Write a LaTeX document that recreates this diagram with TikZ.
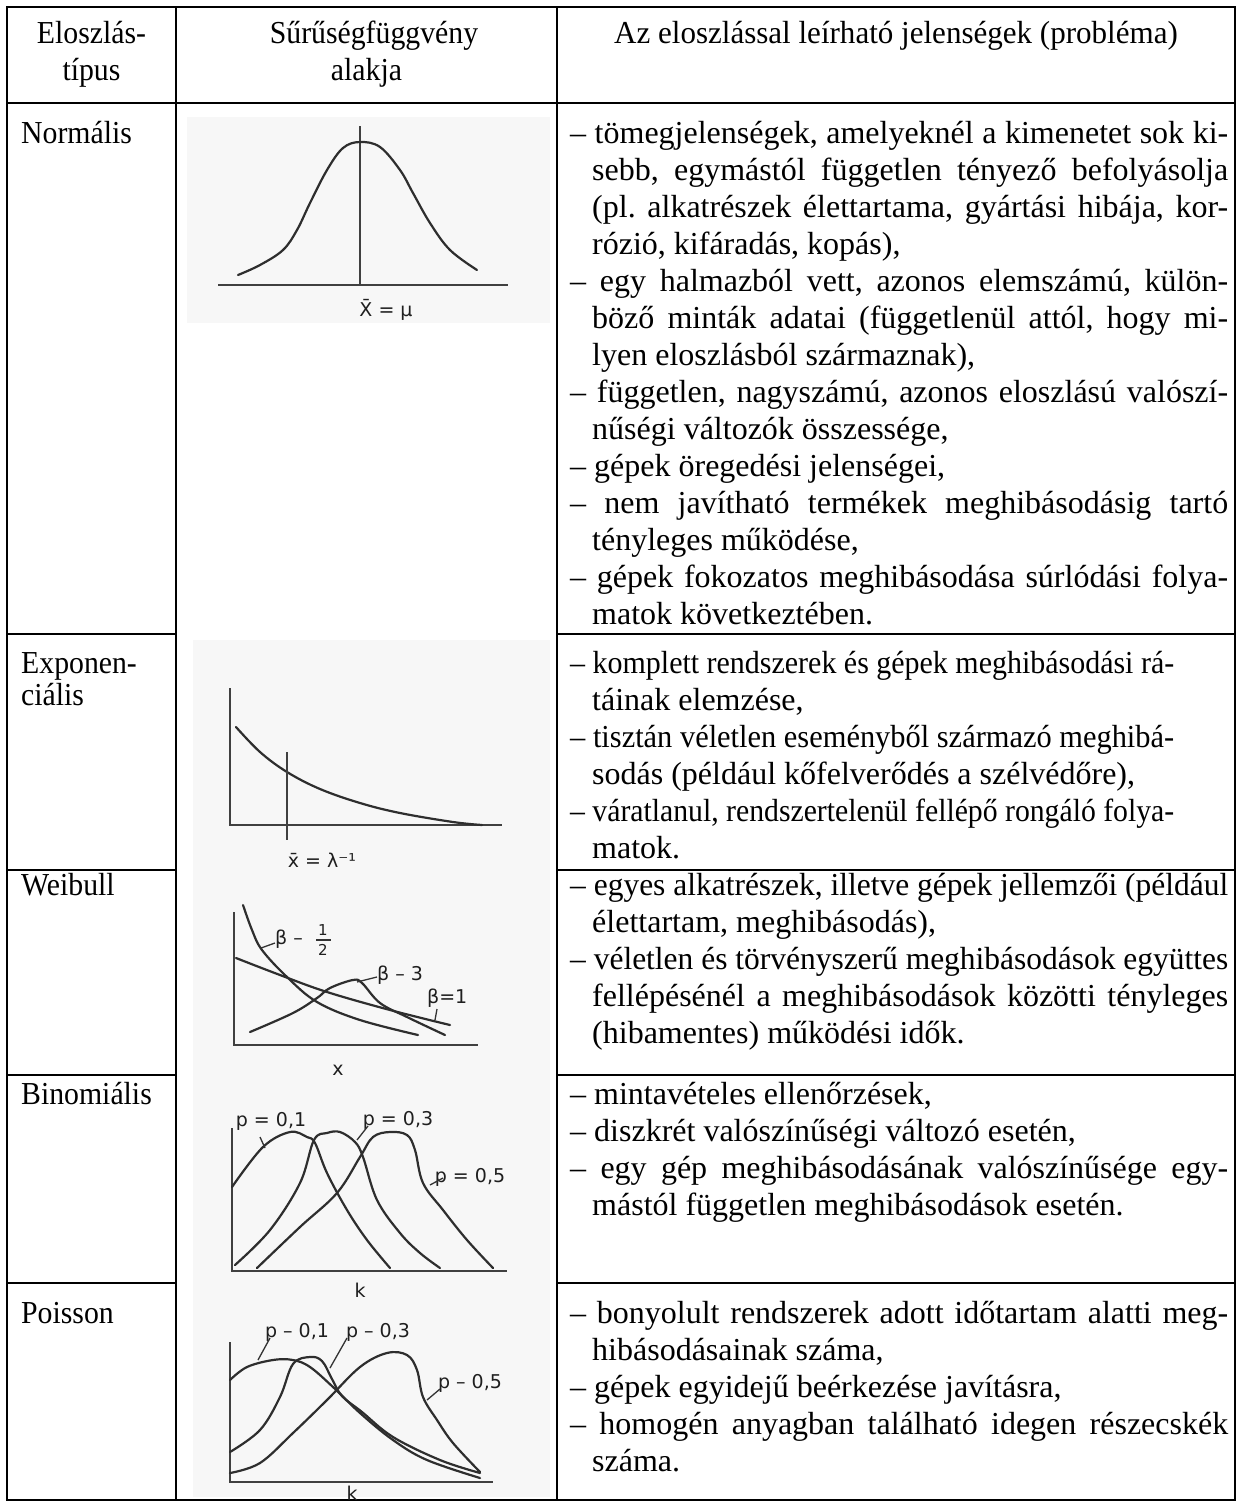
\documentclass[tikz,border=0pt]{standalone}
\usepackage{fontspec}
\usepackage{graphicx}
\setmainfont{Liberation Serif}
\newfontfamily\narrowserif[FakeStretch=0.93]{Liberation Serif}
\newfontfamily\headserif[FakeStretch=0.97]{Liberation Serif}
\newfontfamily\handfont{DejaVu Sans}
\frenchspacing

% one justified line of a table cell: spaces stretch to the given width,
% an over-long line is squeezed instead
\newlength\celllinew
\newcommand\jline[2]{\settowidth\celllinew{#2}%
  \ifdim\celllinew>#1\relax\resizebox{#1}{\height}{#2}\else\makebox[#1][s]{#2}\fi}

\begin{document}
\begin{tikzpicture}[x=1pt,y=-1pt,
  rule/.style={line width=2.6pt, line cap=rect},
  curve/.style={line width=2.2pt, black!82, line cap=round, line join=round},
  axis/.style={line width=1.8pt, black!75},
  lead/.style={line width=1.3pt, black!80},
  hand/.style={font=\handfont\fontsize{19}{19}\selectfont, text=black!88, inner sep=0pt},
  handsmall/.style={font=\handfont\fontsize{15}{15}\selectfont, text=black!88, inner sep=0pt},
  body/.style={font=\fontsize{32}{37}\selectfont, inner sep=0pt, anchor=base west},
  label/.style={font=\narrowserif\fontsize{32}{37}\selectfont, inner sep=0pt, anchor=base west},
  head/.style={font=\narrowserif\fontsize{32}{37}\selectfont, inner sep=0pt, anchor=base, align=center},
  scan/.style={fill=black!3}]

\useasboundingbox (0,0) rectangle (1240,1508);
\fill[white] (0,0) rectangle (1240,1508);

% faint paper tone of the pasted sketches
\fill[scan] (187,117) rectangle (550,323);
\fill[scan] (193,640) rectangle (550,1497);

% ---------- table rules ----------
\draw[rule] (7,7) rectangle (1235,1500);
\draw[rule] (176,7) -- (176,1500);
\draw[rule] (557,7) -- (557,1500);
\draw[rule] (7,103) -- (1235,103);
\foreach \yy in {634,870,1075,1283}{
  \draw[rule] (7,\yy) -- (176,\yy);
  \draw[rule] (557,\yy) -- (1235,\yy);
}

% ---------- header ----------
\node[head] (h1a) at (91.5,43) {Eloszlás-};
\node[head] (h1b) at (91.5,80) {típus};
\node[head] (h2a) at (374,43) {Sűrűségfüggvény};
\node[head] (h2b) at (366.5,80) {alakja};
\node[head, font=\headserif\fontsize{32}{37}\selectfont] (h3) at (896,43) {Az eloszlással leírható jelenségek (probléma)};

% ---------- first column ----------
\node[label] (t1)  at (21,143) {Normális};
\node[label] (t2a) at (21,673) {Exponen-};
\node[label] (t2b) at (21,705) {ciális};
\node[label] (t3)  at (21,895) {Weibull};
\node[label] (t4)  at (21,1104) {Binomiális};
\node[label] (t5)  at (21,1323) {Poisson};

% ---------- normal ----------
\draw[axis] (218,285) -- (508,285);
\draw[axis] (360,126) -- (360,285);
\draw[curve] plot[smooth, tension=0.6] coordinates {(238,275) (260,265) (283,250) (297,230) (310,203) (327,170) (343,148) (360,142) (380,147) (400,170) (413,193) (430,223) (450,250) (477,270)};
\node[hand] (nl) at (386,310) {X̄ = μ};

% ---------- exponential ----------
\draw[axis] (230,688) -- (230,825) -- (502,825);
\draw[curve] plot[smooth, tension=0.6] coordinates {(236,727) (260,752) (287,772) (320,789) (360,803) (400,813) (453,822) (482,825)};
\draw[axis] (287,752) -- (287,840);
\node[hand] (el) at (322,860) {x̄ = λ⁻¹};

% ---------- Weibull ----------
\draw[axis] (234,912) -- (234,1045) -- (478,1045);
\draw[curve] plot[smooth, tension=0.6] coordinates {(243,905) (252,930) (262,950) (287,977) (317,1002) (360,1020) (418,1035)};
\draw[curve] plot[smooth, tension=0.6] coordinates {(236,958) (280,975) (327,992) (390,1010) (450,1025)};
\draw[curve] plot[smooth, tension=0.6] coordinates {(250,1032) (293,1013) (317,998) (330,988) (353,980) (362,983) (380,1003) (407,1017) (445,1035)};
\node[hand, anchor=west] (wa) at (275,939) {β –};
\node[handsmall] (wa1) at (323,930) {1};
\node[handsmall] (wa2) at (323,950) {2};
\draw[lead] (316,940) -- (331,940);
\draw[lead] (275,943) -- (261,948);
\node[hand, anchor=west] (wb) at (377,975) {β – 3};
\draw[lead] (377,977) -- (357,982);
\node[hand, anchor=west] (wc) at (427,998) {β=1};
\draw[lead] (437,1009) -- (435,1020);
\node[hand] (wx) at (338,1070) {x};

% ---------- binomial ----------
\draw[axis] (232,1128) -- (232,1271) -- (507,1271);
\draw[curve] plot[smooth, tension=0.6] coordinates {(232,1187) (263,1147) (290,1132) (307,1137) (315,1143) (327,1173) (347,1210) (367,1240) (390,1268)};
\draw[curve] plot[smooth, tension=0.6] coordinates {(235,1265) (270,1230) (300,1183) (314,1140) (327,1133) (340,1132) (355,1142) (363,1157) (377,1200) (400,1233) (420,1253) (440,1268)};
\draw[curve] plot[smooth, tension=0.6] coordinates {(257,1268) (300,1227) (337,1193) (360,1157) (373,1137) (390,1132) (407,1135) (415,1150) (423,1183) (443,1210) (467,1240) (493,1268)};
\node[hand] (ba) at (271,1121) {p = 0,1};
\draw[lead] (260,1137) -- (265,1148);
\node[hand] (bb) at (398,1120) {p = 0,3};
\draw[lead] (368,1126) -- (357,1140);
\node[hand] (bc) at (470,1177) {p = 0,5};
\draw[lead] (443,1178) -- (430,1185);
\node[hand] (bk) at (360,1290) {k};

% ---------- Poisson ----------
\draw[axis] (230,1342) -- (230,1482) -- (493,1482);
\draw[curve] plot[smooth, tension=0.6] coordinates {(230,1380) (247,1367) (273,1360) (293,1360) (310,1367) (333,1387) (360,1413) (393,1440) (427,1460) (480,1478)};
\draw[curve] plot[smooth, tension=0.6] coordinates {(230,1452) (260,1430) (280,1397) (293,1364) (310,1357) (322,1361) (332,1379) (342,1396) (362,1412) (393,1437) (440,1460) (480,1473)};
\draw[curve] plot[smooth, tension=0.6] coordinates {(230,1473) (260,1463) (293,1433) (327,1400) (360,1367) (387,1353) (407,1355) (417,1370) (423,1397) (437,1420) (453,1443) (480,1472)};
\node[hand] (pa) at (297,1332) {p – 0,1};
\draw[lead] (270,1338) -- (258,1360);
\node[hand] (pb) at (378,1332) {p – 0,3};
\draw[lead] (347,1338) -- (330,1368);
\node[hand] (pc) at (470,1383) {p – 0,5};
\draw[lead] (440,1389) -- (427,1400);
\node[hand] (pk) at (352,1493) {k};

% ---------- third column: normal ----------
\node[body] (n1)  at (570,143) {\jline{658pt}{– tömegjelenségek, amelyeknél a kimenetet sok ki-}};
\node[body] (n2)  at (592,180) {\jline{636pt}{sebb, egymástól független tényező befolyásolja}};
\node[body] (n3)  at (592,217) {\jline{636pt}{(pl. alkatrészek élettartama, gyártási hibája, kor-}};
\node[body] (n4)  at (592,254) {rózió, kifáradás, kopás),};
\node[body] (n5)  at (570,291) {\jline{658pt}{– egy halmazból vett, azonos elemszámú, külön-}};
\node[body] (n6)  at (592,328) {\jline{636pt}{böző minták adatai (függetlenül attól, hogy mi-}};
\node[body] (n7)  at (592,365) {lyen eloszlásból származnak),};
\node[body] (n8)  at (570,402) {\jline{658pt}{– független, nagyszámú, azonos eloszlású valószí-}};
\node[body] (n9)  at (592,439) {nűségi változók összessége,};
\node[body] (n10) at (570,476) {– gépek öregedési jelenségei,};
\node[body] (n11) at (570,513) {\jline{658pt}{– nem javítható termékek meghibásodásig tartó}};
\node[body] (n12) at (592,550) {tényleges működése,};
\node[body] (n13) at (570,587) {\jline{658pt}{– gépek fokozatos meghibásodása súrlódási folya-}};
\node[body] (n14) at (592,624) {matok következtében.};

% ---------- third column: exponential ----------
\node[body] (e1) at (570,673) {\jline{604pt}{– komplett rendszerek és gépek meghibásodási rá-}};
\node[body] (e2) at (592,710) {táinak elemzése,};
\node[body] (e3) at (570,747) {\jline{604pt}{– tisztán véletlen eseményből származó meghibá-}};
\node[body] (e4) at (592,784) {sodás (például kőfelverődés a szélvédőre),};
\node[body] (e5) at (570,821) {\jline{604pt}{– váratlanul, rendszertelenül fellépő rongáló folya-}};
\node[body] (e6) at (592,858) {matok.};

% ---------- third column: Weibull ----------
\node[body] (w1) at (570,895) {\jline{658pt}{– egyes alkatrészek, illetve gépek jellemzői (például}};
\node[body] (w2) at (592,932) {élettartam, meghibásodás),};
\node[body] (w3) at (570,969) {\jline{658pt}{– véletlen és törvényszerű meghibásodások együttes}};
\node[body] (w4) at (592,1006) {\jline{636pt}{fellépésénél a meghibásodások közötti tényleges}};
\node[body] (w5) at (592,1043) {(hibamentes) működési idők.};

% ---------- third column: binomial ----------
\node[body] (b1) at (570,1104) {– mintavételes ellenőrzések,};
\node[body] (b2) at (570,1141) {– diszkrét valószínűségi változó esetén,};
\node[body] (b3) at (570,1178) {\jline{658pt}{– egy gép meghibásodásának valószínűsége egy-}};
\node[body] (b4) at (592,1215) {mástól független meghibásodások esetén.};

% ---------- third column: Poisson ----------
\node[body] (q1) at (570,1323) {\jline{658pt}{– bonyolult rendszerek adott időtartam alatti meg-}};
\node[body] (q2) at (592,1360) {hibásodásainak száma,};
\node[body] (q3) at (570,1397) {– gépek egyidejű beérkezése javításra,};
\node[body] (q4) at (570,1434) {\jline{658pt}{– homogén anyagban található idegen részecskék}};
\node[body] (q5) at (592,1471) {száma.};

\end{tikzpicture}
\end{document}
